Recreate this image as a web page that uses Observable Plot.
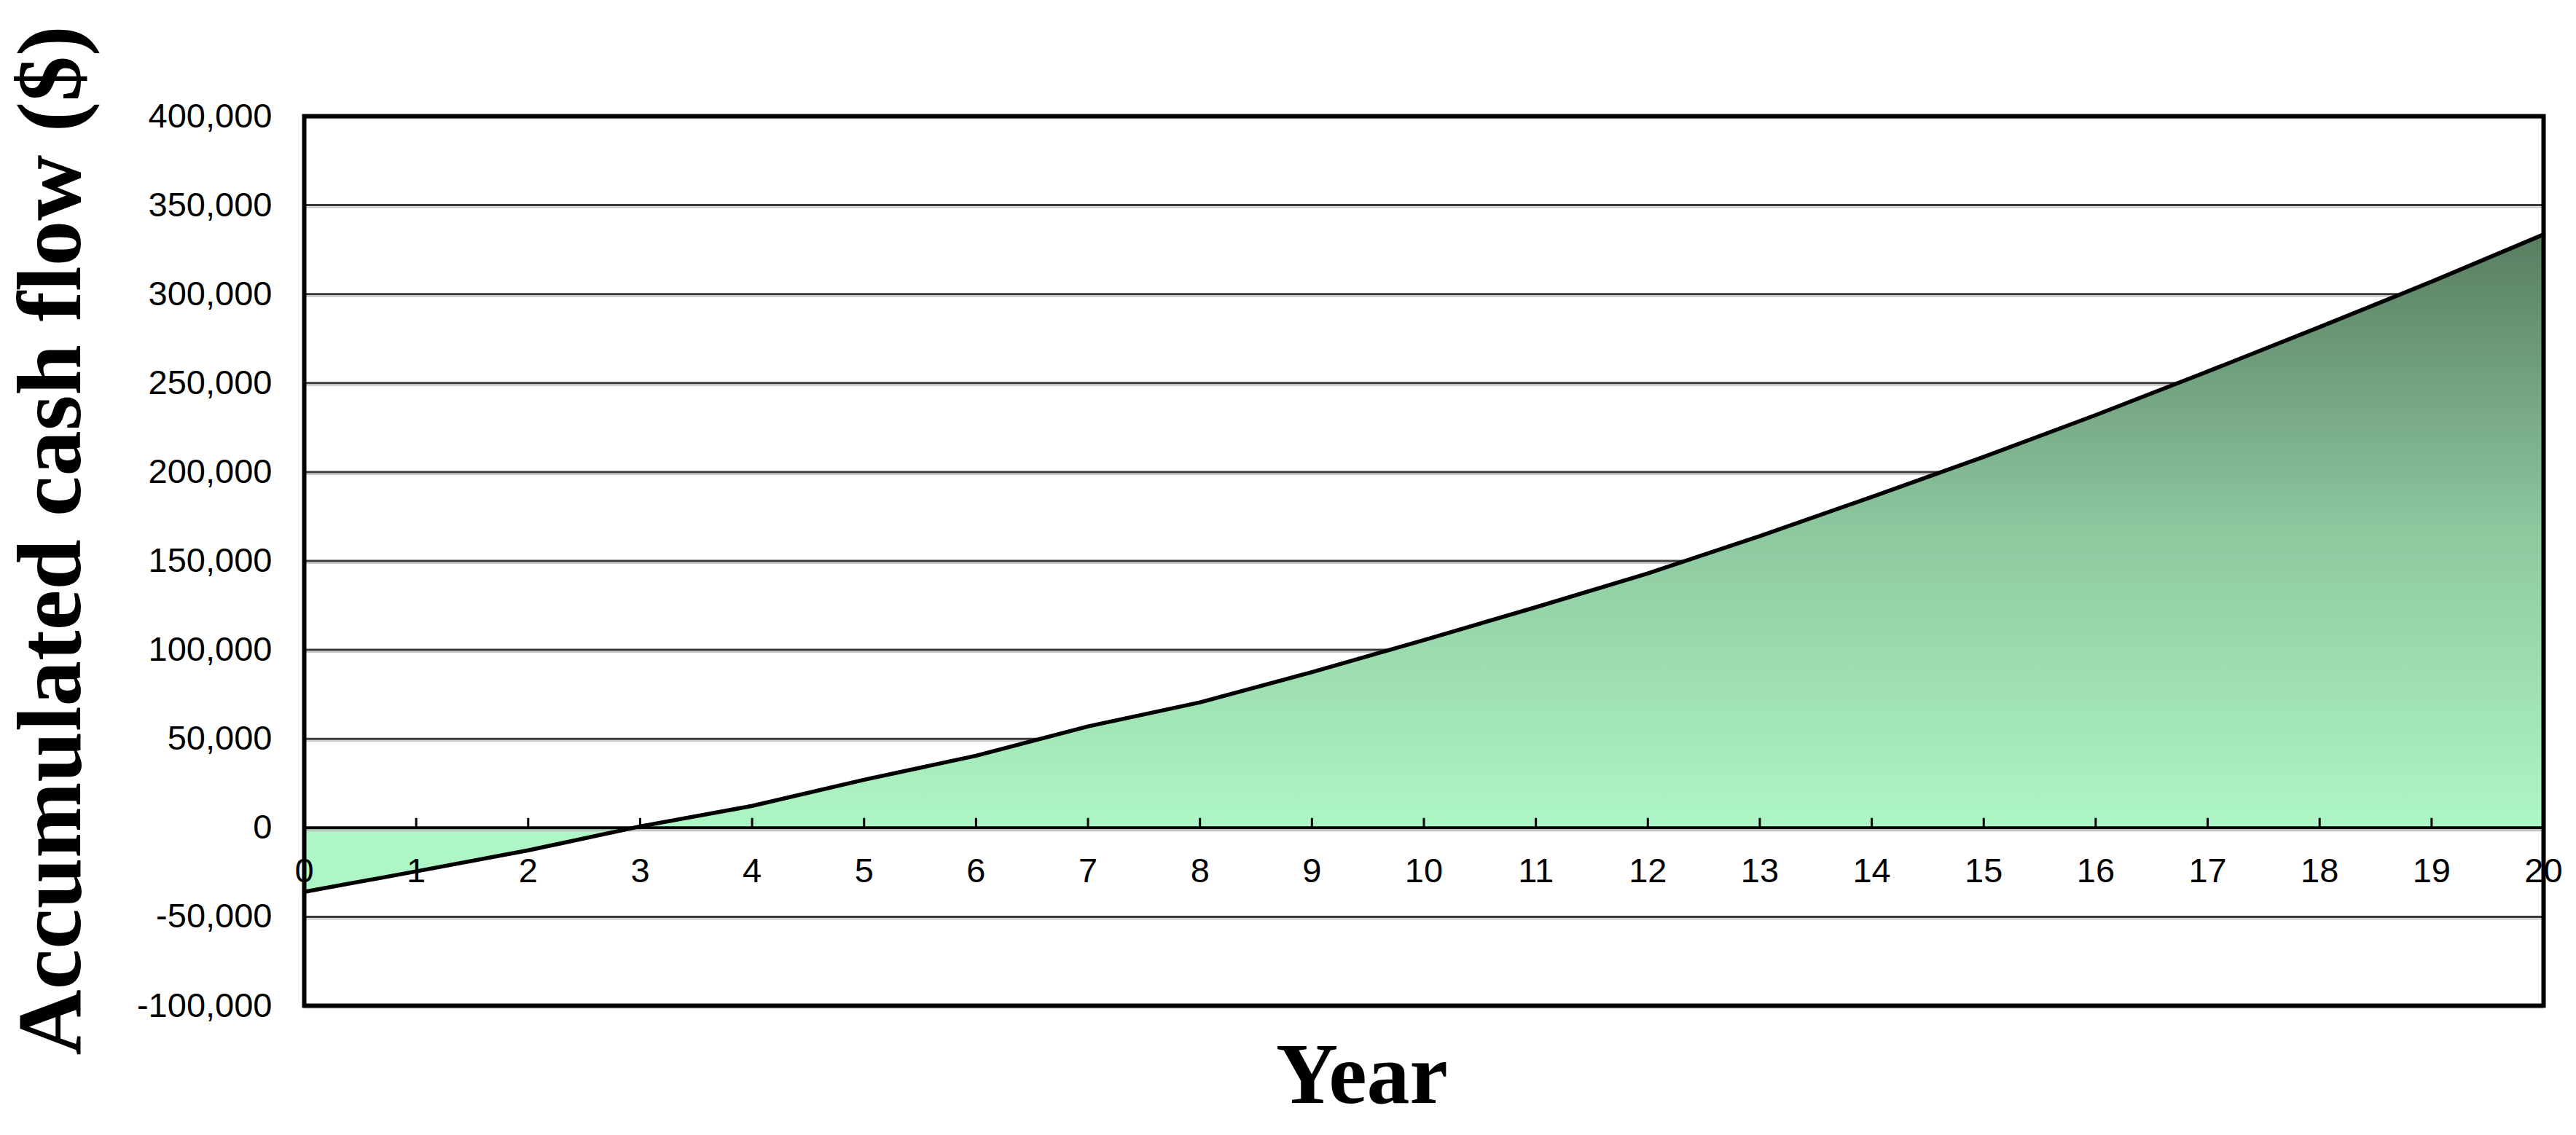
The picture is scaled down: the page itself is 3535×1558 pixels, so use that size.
<!DOCTYPE html>
<html><head><meta charset="utf-8">
<script src="https://cdn.jsdelivr.net/npm/d3@7"></script>
<script src="https://cdn.jsdelivr.net/npm/@observablehq/plot@0.6"></script>
<style>html,body{margin:0;padding:0;background:#fff;}</style>
</head><body><div id="chart"></div>
<script>
const years = [0,1,2,3,4,5,6,7,8,9,10,11,12,13,14,15,16,17,18,19,20];
const cashFlow = [-36000,-24500,-12700,800,12300,27000,40500,57000,70500,87500,105500,124000,143000,164000,186000,208500,232000,256500,281500,307000,333500];
const yTicks = [-100000,-50000,0,50000,100000,150000,200000,250000,300000,350000,400000];
const yTitle = "Accumulated cash flow ($)";
const xTitle = "Year";

const data = years.map((y, i) => ({year: y, value: cashFlow[i]}));
const fmt = d => d3.format(",")(d).replace("\u2212", "-");
const grid = yTicks.filter(d => d !== 0);

const chart = Plot.plot({
  width: 3535, height: 1558,
  marginLeft: 417, marginRight: 45, marginTop: 159, marginBottom: 178,
  style: {fontFamily: "'Liberation Sans', Arial, sans-serif", fontSize: "47px", background: "#fff", color: "#000"},
  x: {domain: [0, 20], axis: null},
  y: {domain: [-100000, 400000]},
  marks: [
    Plot.ruleY(grid, {stroke: "#c8c8c8", strokeWidth: 2, dy: 3}),
    Plot.ruleY(grid, {stroke: "#3a3a3a", strokeWidth: 3}),
    Plot.areaY(data, {x: "year", y: "value", fill: "url(#cfGrad)"}),
    Plot.ruleY([0], {stroke: "#bdbdbd", strokeWidth: 2, dy: 4}),
    Plot.ruleY([0], {stroke: "#000", strokeWidth: 4}),
    Plot.ruleX(years, {x: d => d, y1: 0, y2: 0, insetBottom: 13, stroke: "#000", strokeWidth: 3}),
    Plot.line(data, {x: "year", y: "value", stroke: "#000", strokeWidth: 5.5}),
    Plot.text(years, {x: d => d, y: 0, text: d => String(d), dy: 60, fontSize: 47}),
    Plot.axisY({ticks: yTicks, tickFormat: fmt, tickSize: 0, tickPadding: 44, label: null, fontSize: 47}),
    Plot.frame({stroke: "#000", strokeWidth: 6}),
    Plot.text([yTitle], {frameAnchor: "left", rotate: -90, text: d => d, dx: -308, dy: -28,
      textAnchor: "middle", lineAnchor: "bottom",
      fontSize: 125, fontWeight: "bold", fontFamily: "'Liberation Serif', 'Times New Roman', serif"}),
    Plot.text([xTitle], {frameAnchor: "bottom", text: d => d, dx: -85, dy: 133,
      textAnchor: "middle", lineAnchor: "bottom",
      fontSize: 118, fontWeight: "bold", fontFamily: "'Liberation Serif', 'Times New Roman', serif"})
  ]
});

const yScale = chart.scale("y");
const defs = d3.select(chart).insert("defs", ":first-child");
const grad = defs.append("linearGradient")
  .attr("id", "cfGrad")
  .attr("gradientUnits", "userSpaceOnUse")
  .attr("x1", 0).attr("x2", 0)
  .attr("y1", yScale.apply(d3.max(cashFlow)))
  .attr("y2", yScale.apply(0));
grad.append("stop").attr("offset", 0).attr("stop-color", "#587d60");
grad.append("stop").attr("offset", 0.5).attr("stop-color", "#8dc89f");
grad.append("stop").attr("offset", 1).attr("stop-color", "#aef6c5");

document.getElementById("chart").appendChild(chart);
</script>
</body></html>
